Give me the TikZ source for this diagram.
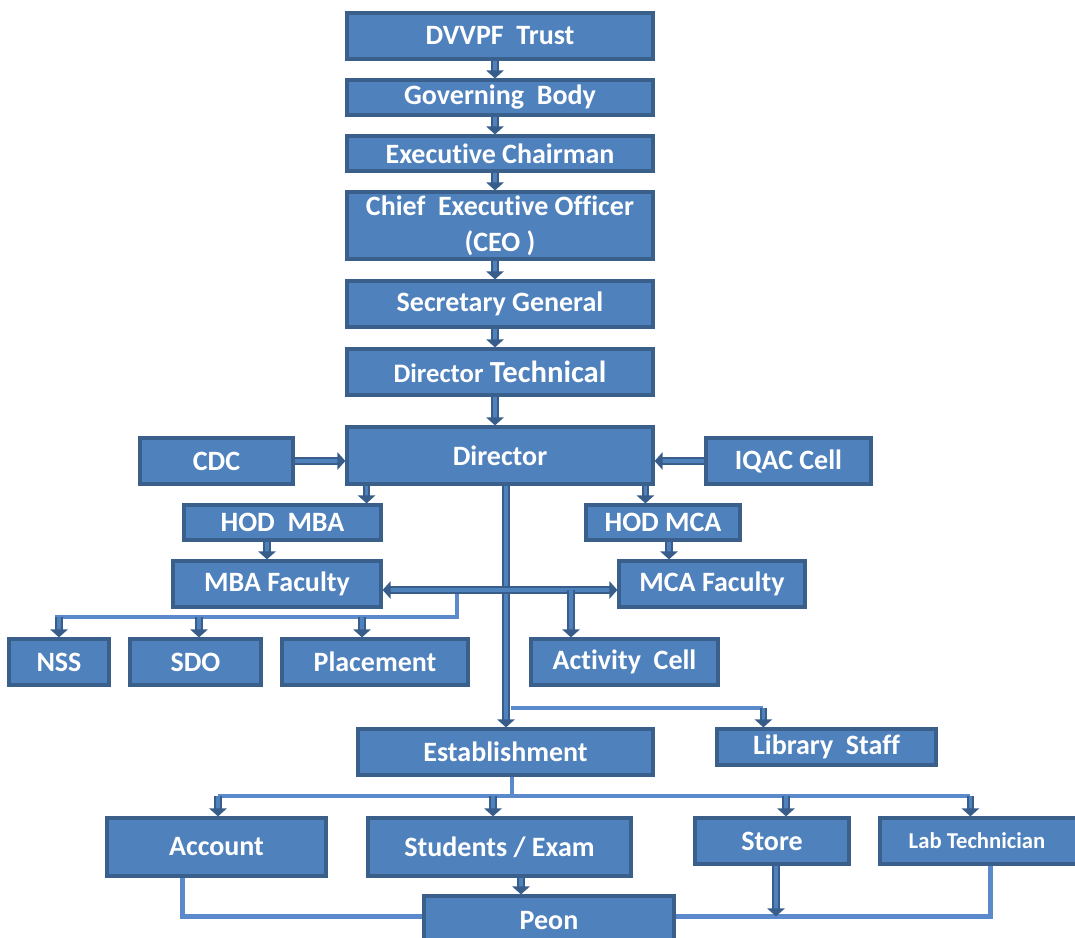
\documentclass[tikz,border=0pt]{standalone}
\usepackage{fontspec}
\setmainfont[Ligatures=NoCommon]{Carlito}
\usetikzlibrary{calc,arrows.meta,shadows}
\definecolor{boxc}{HTML}{4F81BD}
\definecolor{edgec}{HTML}{3A5F8B}
\definecolor{arrc}{HTML}{385D8A}
\definecolor{litec}{HTML}{5A8ACB}
\newcommand\orgbox[6]{%
 \pgfmathsetmacro\obw{(#4-#2)*0.75}%
 \pgfmathsetmacro\obh{(#5-#3)*0.75}%
 \node[box,minimum width=\obw pt,minimum height=\obh pt] (#1) at ({(#2+#4)/2},{(#3+#5)/2}) {#6};}
\begin{document}
\begin{tikzpicture}[x=0.75pt,y=-0.75pt,
 box/.style={draw=edgec,fill=boxc,line width=2.4pt,inner sep=0pt,align=center,
   text=white,font=\fontsize{21}{27}\selectfont\bfseries,
   drop shadow={shadow xshift=1pt,shadow yshift=-1.5pt,fill=black,opacity=0.18}},
 arr/.style={draw=arrc,line width=1.3pt,double=boxc,double distance=2.8pt,
   -{Triangle[length=6pt,width=13pt,fill=arrc]}},
 arrtwo/.style={draw=arrc,line width=1.3pt,double=boxc,double distance=2.8pt,
   {Triangle[length=6pt,width=13pt,fill=arrc]}-{Triangle[length=6pt,width=13pt,fill=arrc]}},
 lite/.style={draw=litec,line width=3.2pt},
]
\useasboundingbox (0,0) rectangle (1075,938);
\orgbox{trust}{347}{13}{653}{59}{DVVPF\ \ Trust}
\orgbox{gov}{347}{80}{653}{115}{Governing\ \ Body}
\orgbox{exec}{347}{136}{653}{171}{Executive Chairman}
\orgbox{ceo}{347}{192}{653}{259}{Chief\ \ Executive Officer\\(CEO )}
\orgbox{sec}{347}{281}{653}{327}{Secretary General}
\orgbox{dtech}{347}{349}{653}{395}{{\fontsize{20}{22}\selectfont Director} {\fontsize{23}{25}\selectfont Technical}}
\orgbox{dir}{347}{427}{653}{484}{Director}
\orgbox{cdc}{140}{438}{293}{484}{CDC}
\orgbox{iqac}{706}{438}{871}{484}{IQAC Cell}
\orgbox{hmba}{184}{505}{381}{540}{HOD\ \ MBA}
\orgbox{hmca}{586}{505}{740}{540}{HOD MCA}
\orgbox{mbaf}{173}{561}{381}{607}{MBA Faculty}
\orgbox{mcaf}{619}{561}{805}{607}{MCA Faculty}
\orgbox{nss}{9}{639}{109}{685}{NSS}
\orgbox{sdo}{130}{639}{261}{685}{SDO}
\orgbox{plac}{282}{639}{468}{685}{Placement}
\orgbox{act}{531}{639}{718}{685}{Activity\ \ Cell}
\orgbox{est}{358}{729}{653}{775}{Establishment}
\orgbox{lib}{717}{729}{936}{765}{Library\ \ Staff}
\orgbox{acc}{107}{818}{326}{876}{Account}
\orgbox{stu}{368}{818}{631}{876}{Students / Exam}
\orgbox{store}{695}{818}{849}{864}{Store}
\orgbox{lab}{880}{818}{1082}{864}{\fontsize{17}{20}\selectfont Lab Technician\hspace*{6pt}}
\orgbox{peon}{424}{896}{674}{946}{Peon}
% vertical stack
\draw[arr] ($(trust.south)+(-5,0)$) -- ($(gov.north)+(-5,0)$);
\draw[arr] ($(gov.south)+(-5,0)$) -- ($(exec.north)+(-5,0)$);
\draw[arr] ($(exec.south)+(-5,0)$) -- ($(ceo.north)+(-5,0)$);
\draw[arr] ($(ceo.south)+(-5,0)$) -- ($(sec.north)+(-5,0)$);
\draw[arr] ($(sec.south)+(-5,0)$) -- ($(dtech.north)+(-5,0)$);
\draw[arr] ($(dtech.south)+(-5,0)$) -- ($(dir.north)+(-5,0)$);
% side units
\draw[arr] (cdc.east) -- (cdc.east -| dir.west);
\draw[arr] (iqac.west) -- (iqac.west -| dir.east);
% HODs
\coordinate (a1) at ($(hmba.north east)+(-16,0)$);
\draw[arr] (dir.south -| a1) -- (a1);
\coordinate (a2) at ($(hmca.north west)+(61,0)$);
\draw[arr] (dir.south -| a2) -- (a2);
\coordinate (a3) at ($(hmba.south)+(-15.5,0)$);
\draw[arr] (a3) -- (a3 |- mbaf.north);
\coordinate (a4) at ($(hmca.south)+(6,0)$);
\draw[arr] (a4) -- (a4 |- mcaf.north);
% MBA-side light bus
\coordinate (m1) at (457,588);
\coordinate (m2) at (457,617);
\coordinate (m3) at (55,617);
\draw[lite] (m1) -- (m2) -- (m3);
\coordinate (n1) at ($(nss.north)+(0,0)$);
\coordinate (n2) at ($(sdo.north)+(3.5,0)$);
\coordinate (n3) at ($(plac.north)+(-13,0)$);
\draw[arr] (n1 |- m2) -- (n1);
\draw[arr] (n2 |- m2) -- (n2);
\draw[arr] (n3 |- m2) -- (n3);
% Director down to Establishment
\coordinate (dv) at ($(dir.south)+(6,0)$);
\draw[arr] (dv) -- (dv |- est.north);
% faculty link
\coordinate (hl) at ($(mbaf.east)+(0,6)$);
\coordinate (hr) at ($(mcaf.west)+(0,6)$);
\draw[arrtwo] (hl) -- (hr);
\coordinate (at) at ($(act.north)+(-53.5,0)$);
\draw[arr] (at |- hl) -- (at);
% library
\coordinate (l1) at (511,708);
\coordinate (l2) at ($(lib.north west)+(48,0)$);
\draw[lite] (l1) -- (l1 -| l2);
\draw[arr] (l1 -| l2) -- (l2);
% establishment bus
\coordinate (e1) at ($(est.south)+(6.5,0)$);
\coordinate (e2) at (512,796);
\coordinate (b1) at ($(acc.north)+(1.5,0)$);
\coordinate (b2) at ($(stu.north)+(-6.5,0)$);
\coordinate (b3) at ($(store.north)+(14,0)$);
\coordinate (b4) at ($(lab.north west)+(92,0)$);
\draw[lite] (e1) -- (e2);
\draw[lite] (b1 |- e2) -- (b4 |- e2);
\draw[arr] (b1 |- e2) -- (b1);
\draw[arr] (b2 |- e2) -- (b2);
\draw[arr] (b3 |- e2) -- (b3);
\draw[arr] (b4 |- e2) -- (b4);
% peon links
\coordinate (s1) at ($(stu.south)+(21.5,0)$);
\draw[arr] (s1) -- (s1 |- peon.north);
\coordinate (p1) at ($(peon.north west)+(0,22)$);
\coordinate (p2) at ($(peon.north east)+(0,22)$);
\coordinate (q1) at ($(acc.south west)+(77,0)$);
\coordinate (q2) at ($(lab.south west)+(112,0)$);
\draw[lite] (q1) |- (p1);
\draw[lite] (p2) -| (q2);
\coordinate (s2) at ($(store.south)+(4,0)$);
\draw[arr] (s2) -- (s2 |- p2);
\end{tikzpicture}
\end{document}
